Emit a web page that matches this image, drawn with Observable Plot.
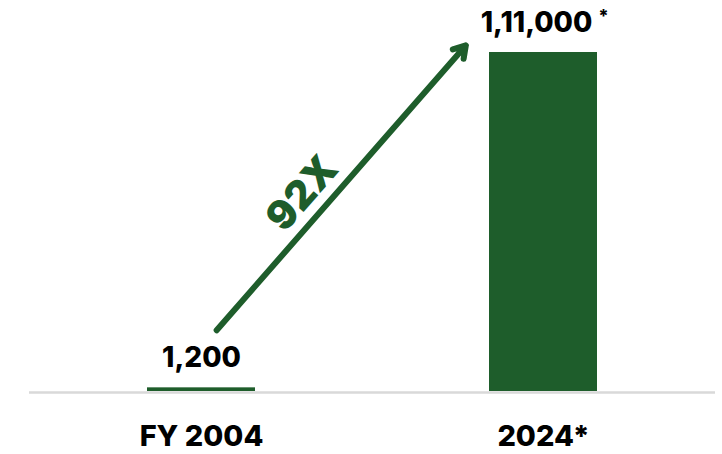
<!DOCTYPE html>
<html>
<head>
<meta charset="utf-8">
<script src="https://cdn.jsdelivr.net/npm/d3@7"></script>
<script src="https://cdn.jsdelivr.net/npm/@observablehq/plot@0.6"></script>
<style>
  html, body { margin: 0; padding: 0; background: #fff; }
  #chart { width: 722px; height: 454px; }
</style>
</head>
<body>
<div id="chart"></div>
<script>
const categories = ["FY 2004", "2024*"];
const values = [1200, 111000];
const valueLabels = ["1,200", "1,11,000"];
const footnoteMarks = ["", "*"];
const growthLabel = "92X";

const green = "#1e5d2b";
const data = categories.map((c, i) => ({category: c, value: values[i], label: valueLabels[i], note: footnoteMarks[i]}));
const plain = data.filter((d) => !d.note);
const noted = data.filter((d) => d.note);

// arrow runs between the two categories, shortened at both ends
const arrowData = [{x1: categories[0], x2: categories[1], y1: 14400, y2: 142400}];
const noteData = [{x: categories[0], y: 64800, text: growthLabel}];

const labelStyle = {x: "category", y: "value", text: "label", lineAnchor: "bottom", dy: -21,
  fontSize: 28, fontWeight: 800, fill: "#000"};

const chart = Plot.plot({
  width: 722,
  height: 454,
  marginLeft: 29,
  marginRight: 7,
  marginTop: 0,
  marginBottom: 63,
  style: {fontFamily: "Inter, sans-serif", background: "#fff"},
  x: {domain: categories, range: [146, 597], paddingInner: 0.685, paddingOuter: 0, label: null},
  y: {domain: [0, 111000], range: [391, 52], axis: null},
  marks: [
    Plot.ruleY([0], {stroke: "#d9d9d9", strokeWidth: 2.5, dy: 1}),
    Plot.barY(data, {x: "category", y: "value", fill: green}),
    Plot.text(plain, labelStyle),
    Plot.text(noted, {...labelStyle, dx: -7}),
    Plot.text(noted, {x: "category", y: "value", text: "note", lineAnchor: "bottom",
      dy: -31, dx: 60, fontSize: 18, fontWeight: 800, fill: "#000"}),
    Plot.arrow(arrowData, {x1: "x1", y1: "y1", x2: "x2", y2: "y2", stroke: green, strokeWidth: 6,
      insetStart: 23, insetEnd: 118, headLength: 3.4, headAngle: 64, strokeLinejoin: "miter"}),
    Plot.text(noteData, {x: "x", y: "y", text: "text", dx: 101, rotate: -48.7, fontSize: 40,
      fontWeight: 900, fill: green}),
    Plot.axisX({tickSize: 0, tickPadding: 34, fontSize: 29, fontWeight: 800, fill: "#000", label: null})
  ]
});
document.getElementById("chart").append(chart);
</script>
</body>
</html>
